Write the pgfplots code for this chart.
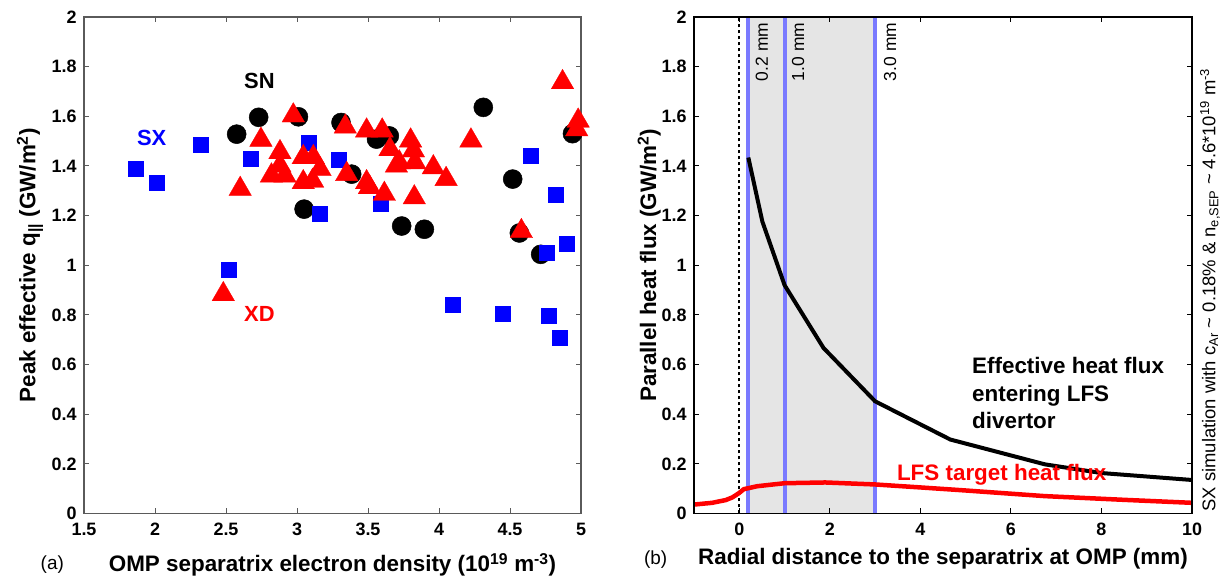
\documentclass[border=0pt]{standalone}
\usepackage{pgfplots}
\pgfplotsset{compat=1.18}
\usepackage{fontspec}
\setmainfont{Liberation Sans}
\definecolor{myblue}{RGB}{0,0,255}
\definecolor{myred}{RGB}{255,0,0}
\definecolor{vline}{RGB}{122,122,255}
\definecolor{band}{RGB}{229,229,229}
\definecolor{frameL}{RGB}{90,90,90}
\newcommand{\lab}{\fontsize{22.5}{27}\selectfont\bfseries}
\newcommand{\tck}{\fontsize{18}{21}\selectfont\bfseries}

\pgfplotstableread{
x y
1.866 1.390
2.012 1.333
2.324 1.484
2.676 1.430
3.080 1.495
3.157 1.206
3.291 1.425
3.592 1.250
2.516 0.984
4.096 0.843
4.446 0.805
4.770 0.798
4.847 0.708
4.646 1.440
4.820 1.284
4.900 1.087
4.760 1.050
}\sx

\pgfplotstableread{
x y
2.575 1.528
2.730 1.596
3.010 1.598
3.050 1.226
3.310 1.575
3.385 1.367
3.560 1.508
3.650 1.521
3.737 1.158
3.897 1.145
4.312 1.636
4.519 1.347
4.566 1.130
4.716 1.044
4.940 1.530
}\sn

\pgfplotstableread{
x y
2.481 0.883
2.600 1.307
2.746 1.505
2.820 1.361
2.880 1.455
2.880 1.401
2.915 1.361
2.974 1.603
3.044 1.435
3.115 1.435
3.162 1.387
3.044 1.334
3.110 1.340
3.340 1.558
3.350 1.367
3.490 1.542
3.490 1.334
3.510 1.314
3.600 1.542
3.615 1.287
3.655 1.467
3.700 1.401
3.720 1.414
3.800 1.502
3.820 1.462
3.830 1.414
3.826 1.273
3.960 1.394
4.050 1.347
4.225 1.502
4.580 1.137
4.870 1.737
4.970 1.547
4.980 1.582
}\xd

\pgfplotstableread{
x y
0.20 1.434
0.51 1.176
1.00 0.920
1.86 0.667
3.00 0.452
4.66 0.298
6.75 0.198
8.00 0.163
10.0 0.135
}\effq

\pgfplotstableread{
x y
-1.00 0.036
-0.60 0.043
-0.30 0.054
-0.15 0.065
0.00 0.083
0.10 0.098
0.40 0.110
1.00 0.122
1.90 0.125
3.00 0.117
4.00 0.105
4.90 0.094
6.75 0.070
8.50 0.055
10.0 0.043
}\tgtq

\pgfplotsset{
  common/.style={
    scale only axis, width=497bp, height=496.5bp,
    anchor=south west,
    ymin=0, ymax=2, ytick={0,0.2,...,2},
    tick align=inside, major tick length=5bp,
    /pgf/number format/assume math mode=true,
    ticklabel style={font=\tck},
    xticklabel style={yshift=-6bp},
    yticklabel style={xshift=-4bp},
    label style={font=\lab},
    clip=false,
  }
}

\begin{document}
\begin{tikzpicture}
\useasboundingbox (0bp,0bp) rectangle (1226bp,579bp);
% ---------- (a) ----------
\begin{axis}[common, at={(84bp,65.5bp)},
  xmin=1.5, xmax=5, xtick={1.5,2,2.5,3,3.5,4,4.5,5},
  axis line style={frameL, line width=1.2bp},
  every tick/.style={frameL, line width=1bp},
  xlabel={OMP separatrix electron density (10\textsuperscript{19} m\textsuperscript{-3})},
  ylabel={Peak effective q\textsubscript{||} (GW/m\textsuperscript{2})},
  xlabel style={at={(axis description cs:0.5,-0.1037)}, anchor=center},
  ylabel style={at={(axis description cs:-0.1087,0.5)}, anchor=center},
]
\addplot[only marks, mark=*, mark size=9.5bp, mark options={fill=black, draw=black, line width=0.5bp}] table {\sn};
\addplot[only marks, mark=square*, mark size=7.5bp, mark options={fill=myblue, draw=myblue, line width=0.3bp}] table {\sx};
\addplot[only marks, mark=triangle*, mark size=13bp, mark options={fill=myred, draw=myred, line width=0.3bp}] table {\xd};
\node[font=\fontsize{22}{26}\selectfont\bfseries, text=black] at (axis cs:2.735,1.743) {SN};
\node[font=\fontsize{22}{26}\selectfont\bfseries, text=myblue] at (axis cs:1.977,1.511) {SX};
\node[font=\fontsize{22}{26}\selectfont\bfseries, text=myred] at (axis cs:2.735,0.805) {XD};
\end{axis}
% ---------- (b) ----------
\begin{axis}[common, at={(694bp,65.5bp)}, width=498bp,
  xmin=-1, xmax=10, xtick={0,2,4,6,8,10},
  axis line style={black, line width=1.2bp},
  every tick/.style={black, line width=1bp},
  axis on top,
  xlabel={Radial distance to the separatrix at OMP (mm)},
  ylabel={Parallel heat flux (GW/m\textsuperscript{2})},
  xlabel style={at={(axis description cs:0.5,-0.0916)}, anchor=center},
  ylabel style={at={(axis description cs:-0.09,0.5)}, anchor=center},
]
\addplot[draw=none, fill=band] coordinates {(0.2,0) (0.2,2) (3,2) (3,0)} \closedcycle;
\addplot[vline, line width=4bp] coordinates {(0.2,0) (0.2,2)};
\addplot[vline, line width=4bp] coordinates {(1.0,0) (1.0,2)};
\addplot[vline, line width=4bp] coordinates {(3.0,0) (3.0,2)};
\addplot[black, line width=2bp, dash pattern=on 3.5bp off 2.5bp] coordinates {(0,0) (0,2)};
\addplot[black, line width=4bp] table {\effq};
\addplot[myred, line width=4.5bp] table {\tgtq};
\node[rotate=90, font=\fontsize{17.5}{21}\selectfont] at (axis cs:0.50,1.859) {0.2 mm};
\node[rotate=90, font=\fontsize{17.5}{21}\selectfont] at (axis cs:1.30,1.859) {1.0 mm};
\node[rotate=90, font=\fontsize{17.5}{21}\selectfont] at (axis cs:3.33,1.859) {3.0 mm};
\node[anchor=west, align=left, font=\fontsize{22.5}{27.5}\selectfont\bfseries, inner sep=0pt] at (axis cs:5.14,0.485) {Effective heat flux\\entering LFS\\divertor};
\node[anchor=west, font=\fontsize{22.5}{27}\selectfont\bfseries, text=myred, inner sep=0pt] at (axis cs:3.48,0.155) {LFS target heat flux};
\end{axis}
\node[font=\fontsize{19}{22}\selectfont] at (52.3bp,14bp) {(a)};
\node[font=\fontsize{19}{22}\selectfont] at (655.7bp,19bp) {(b)};
\node[rotate=90, font=\fontsize{18.5}{22}\selectfont] at (1210bp,289bp) {SX simulation with c\textsubscript{Ar} \textasciitilde{} 0.18\% \& n\textsubscript{e,SEP} \textasciitilde{} 4.6*10\textsuperscript{19} m\textsuperscript{-3}};
\end{tikzpicture}
\end{document}
